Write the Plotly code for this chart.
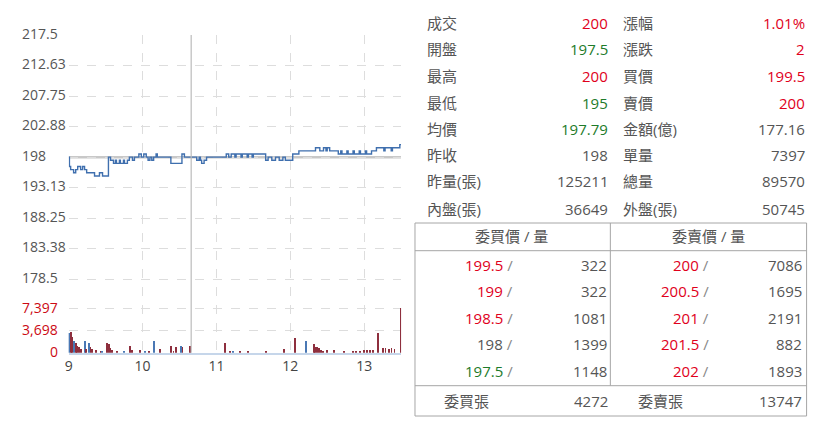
import plotly.graph_objects as go

W, H = 825, 425

# price line (minutes after 09:00, price)
price_t = [0, 0.6, 1.6, 4, 5.7, 7.3, 9.7, 11.3, 12.9, 14.6, 21, 25, 27.5, 32.3, 34, 36.4, 38, 38.8,
           41.2, 42, 44.5, 45.3, 47.7, 49.3, 51.8, 53.4, 55, 57, 59, 61, 63, 64.5, 66, 67.5, 69, 71,
           72, 83, 90, 92, 94, 104, 106, 107, 108, 110, 112, 128, 130, 132, 135, 136, 140, 141, 145,
           146, 149, 150, 153, 160, 162, 165, 168, 171, 174, 176, 182, 187, 190, 200.5, 204, 207, 209,
           210, 212, 219, 221, 222, 226, 227, 231, 232, 236, 237, 241, 242, 246, 250, 255, 256, 257,
           262, 263, 268, 269, 270]
price_v = [198, 196.5, 196, 195.5, 196, 196.5, 196, 196.5, 196, 195.5, 195, 195.5, 195, 198, 197.5,
           197, 197.5, 197, 197.5, 197, 197.5, 197, 197.5, 198, 197.5, 198, 198, 198.5, 198, 198.5,
           198, 197.5, 198, 197.5, 198, 198.5, 198, 197, 197, 198.5, 198, 197.5, 198, 197.5, 197,
           197.5, 198, 198.5, 198, 198.5, 198, 198.5, 198, 198.5, 198, 198.5, 198, 198.5, 198.5,
           197.5, 198, 197.5, 198, 197.5, 198, 197.5, 198.5, 199, 199, 199.5, 199, 199.5, 199,
           199.5, 199, 198.5, 199, 198.5, 199, 198.5, 199, 198.5, 199, 198.5, 199, 198.5, 199,
           199.5, 199.5, 199, 199.5, 199, 199.5, 199.5, 200, 200]

# volume bars (minutes after 09:00, lots, up/down)
vol_t = [0, 1.4, 2.7, 4, 5.4, 6.7, 8.1, 9.7, 12.7, 13.7, 16.2, 17.5, 18.8, 21.6, 25.6, 26.9, 31,
         32.3, 33.7, 35, 39.1, 44.5, 49.9, 50.9, 58, 62, 64.7, 68.7, 74.1, 83, 84.9, 86.8, 91.1,
         92.2, 98.4, 126.7, 130.8, 133.4, 138.8, 145.5, 160.3, 174.4, 183.3, 192.7, 198.7, 200.1,
         201.7, 203.4, 205, 206.2, 209.4, 215.1, 223.7, 230.5, 232.9, 236.1, 239.3, 241.8, 244.2,
         246.6, 250.7, 254.7, 257.1, 259.6, 262, 264.4, 269.5]
vol_v = [3300, 3450, 2660, 2000, 1600, 1170, 1000, 700, 1950, 600, 1670, 900, 600, 500, 300, 250,
         1560, 1400, 800, 400, 200, 200, 1100, 400, 500, 300, 300, 2000, 570, 1110, 300, 900, 1100,
         900, 1100, 1670, 330, 200, 330, 330, 330, 570, 2400, 1950, 1450, 1000, 1000, 730, 500, 330,
         400, 500, 330, 300, 250, 300, 400, 500, 450, 400, 3230, 730, 730, 600, 730, 700, 7397]
vol_up = [0, 1, 1, 0, 1, 1, 1, 1, 0, 1, 0, 1, 1, 1, 1, 0, 1, 1, 1, 1, 1, 0, 1, 1, 1, 0, 1, 0, 1, 1,
          1, 1, 0, 1, 1, 1, 1, 0, 1, 1, 1, 1, 1, 0, 1, 1, 1, 1, 1, 1, 1, 1, 1, 1, 1, 1, 1, 1, 1, 1,
          1, 1, 1, 1, 1, 1, 1]

hour_ticks = [0, 60, 120, 180, 240]
hour_labels = ["9", "10", "11", "12", "13"]
price_ticks = [217.5, 212.625, 207.75, 202.875, 198, 193.125, 188.25, 183.375, 178.5]
price_labels = ["217.5", "212.63", "207.75", "202.88", "198", "193.13", "188.25", "183.38", "178.5"]
vol_ticks = [7397, 3698.5, 0]
vol_labels = ["7,397", "3,698", "0"]
prev_close = 198
cursor_t = 99.5

# quote summary
info_labels_left = ["成交", "開盤", "最高", "最低", "均價", "昨收", "昨量(張)", "內盤(張)"]
info_values_left = ["200", "197.5", "200", "195", "197.79", "198", "125211", "36649"]
info_dir_left = ["up", "down", "up", "down", "down", "flat", "flat", "flat"]
info_labels_right = ["漲幅", "漲跌", "買價", "賣價", "金額(億)", "單量", "總量", "外盤(張)"]
info_values_right = ["1.01%", "2", "199.5", "200", "177.16", "7397", "89570", "50745"]
info_dir_right = ["up", "up", "up", "up", "flat", "flat", "flat", "flat"]

# five-level order book
bid_prices = ["199.5", "199", "198.5", "198", "197.5"]
bid_qty = ["322", "322", "1081", "1399", "1148"]
bid_dir = ["up", "up", "up", "flat", "down"]
ask_prices = ["200", "200.5", "201", "201.5", "202"]
ask_qty = ["7086", "1695", "2191", "882", "1893"]
ask_dir = ["up", "up", "up", "up", "up"]
bid_total = "4272"
ask_total = "13747"

RED = "#e0001b"
GREEN = "#1e7b2a"
GRAY = "#555555"
COLORS = {"up": RED, "down": GREEN, "flat": GRAY}
FONT = "Open Sans, Noto Sans CJK TC, sans-serif"


def px(x):
    return x / W


def py(y):
    return 1 - y / H


def label(x, y, text, anchor, size=15, color=GRAY):
    return dict(x=px(x), y=py(y), xref="paper", yref="paper", text=text, showarrow=False,
                xanchor=anchor, yanchor="middle", font=dict(size=size, color=color))


fig = go.Figure()

fig.add_trace(go.Bar(
    x=vol_t, y=vol_v, yaxis="y2", width=0.75,
    marker=dict(color=["#8e2f3e" if u else "#4a78b4" for u in vol_up], line=dict(width=0)),
    hoverinfo="skip"
))

fig.add_trace(go.Scatter(
    x=price_t, y=price_v, mode="lines",
    line=dict(color="#3f6fae", width=1.4, shape="hv"),
    hoverinfo="skip"
))

y_dom = [py(352.7), py(35)]

fig.update_layout(
    width=W, height=H,
    paper_bgcolor="white",
    plot_bgcolor="white",
    margin=dict(l=0, r=0, t=0, b=0),
    showlegend=False,
    bargap=0,
    font=dict(family=FONT, color=GRAY),
    xaxis=dict(
        domain=[px(65), px(399)],
        range=[0, 270],
        tickvals=hour_ticks,
        ticktext=hour_labels,
        tickfont=dict(size=14, color="#444444"),
        showgrid=True,
        gridcolor="#dddddd",
        griddash="dash",
        zeroline=False,
        showline=True,
        linecolor="#c6d6ea",
        linewidth=1.5,
        ticks="",
        anchor="y"
    ),
    yaxis=dict(
        domain=y_dom,
        range=[166.78, 217.5],
        tickvals=price_ticks,
        showticklabels=False,
        showgrid=True,
        gridcolor="#dddddd",
        griddash="dash",
        zeroline=False
    ),
    yaxis2=dict(
        overlaying="y",
        range=[0, 52930],
        tickvals=vol_ticks,
        showticklabels=False,
        showgrid=True,
        gridcolor="#dddddd",
        griddash="dash",
        zeroline=False
    )
)

shapes = [
    dict(type="line", xref="x", yref="y", x0=0, x1=270, y0=prev_close, y1=prev_close,
         line=dict(color="#c8c8c8", width=2.5), layer="below"),
    dict(type="line", xref="x", yref="paper", x0=cursor_t, x1=cursor_t, y0=y_dom[0], y1=y_dom[1],
         line=dict(color="#bbbbbb", width=1.2)),
]

# order book frame
box = "#a6a6a6"
shapes.append(dict(type="rect", xref="paper", yref="paper", x0=px(413), x1=px(806.5),
                   y0=py(416), y1=py(223), line=dict(color=box, width=1)))
for yy in [250.7, 385.7]:
    shapes.append(dict(type="line", xref="paper", yref="paper", x0=px(413), x1=px(806.5),
                       y0=py(yy), y1=py(yy), line=dict(color=box, width=1)))
shapes.append(dict(type="line", xref="paper", yref="paper", x0=px(609.3), x1=px(609.3),
                   y0=py(385.7), y1=py(223), line=dict(color=box, width=1)))

ann = []

# y tick labels
for v, t in zip(price_ticks, price_labels):
    ann.append(dict(x=px(16), y=v, xref="paper", yref="y", text=t, showarrow=False,
                    xanchor="left", yanchor="middle", yshift=2,
                    font=dict(size=14, color="#555555")))
for v, t in zip(vol_ticks, vol_labels):
    ann.append(dict(x=px(56), y=v, xref="paper", yref="y2", text=t, showarrow=False,
                    xanchor="right", yanchor="middle", yshift=1,
                    font=dict(size=14, color="#cc0a14")))

# quote summary
row_y = [23, 49.5, 76, 102.5, 128.5, 155, 181.5, 208.5]
for i, yy in enumerate(row_y):
    ann.append(label(423, yy, info_labels_left[i], "left"))
    ann.append(label(609, yy, info_values_left[i], "right", color=COLORS[info_dir_left[i]]))
    ann.append(label(620, yy, info_labels_right[i], "left"))
    ann.append(label(807, yy, info_values_right[i], "right", color=COLORS[info_dir_right[i]]))

# order book
ann.append(label(510, 236, "委買價 / 量", "center"))
ann.append(label(708, 236, "委賣價 / 量", "center"))
book_y = [264.5, 291, 317.5, 344, 370.5]
for i, yy in enumerate(book_y):
    ann.append(label(513, yy, f"<span style='color:{COLORS[bid_dir[i]]}'>{bid_prices[i]}</span> /",
                     "right", color="#888888"))
    ann.append(label(607.5, yy, bid_qty[i], "right"))
    ann.append(label(710, yy, f"<span style='color:{COLORS[ask_dir[i]]}'>{ask_prices[i]}</span> /",
                     "right", color="#888888"))
    ann.append(label(804, yy, ask_qty[i], "right"))

ann.append(label(440, 401, "委買張", "left"))
ann.append(label(609, 401, bid_total, "right"))
ann.append(label(635, 401, "委賣張", "left"))
ann.append(label(804, 401, ask_total, "right"))

fig.update_layout(shapes=shapes, annotations=ann)

fig.write_html("out.html", config={"displayModeBar": False},
               post_script="document.body.style.margin='0';")
